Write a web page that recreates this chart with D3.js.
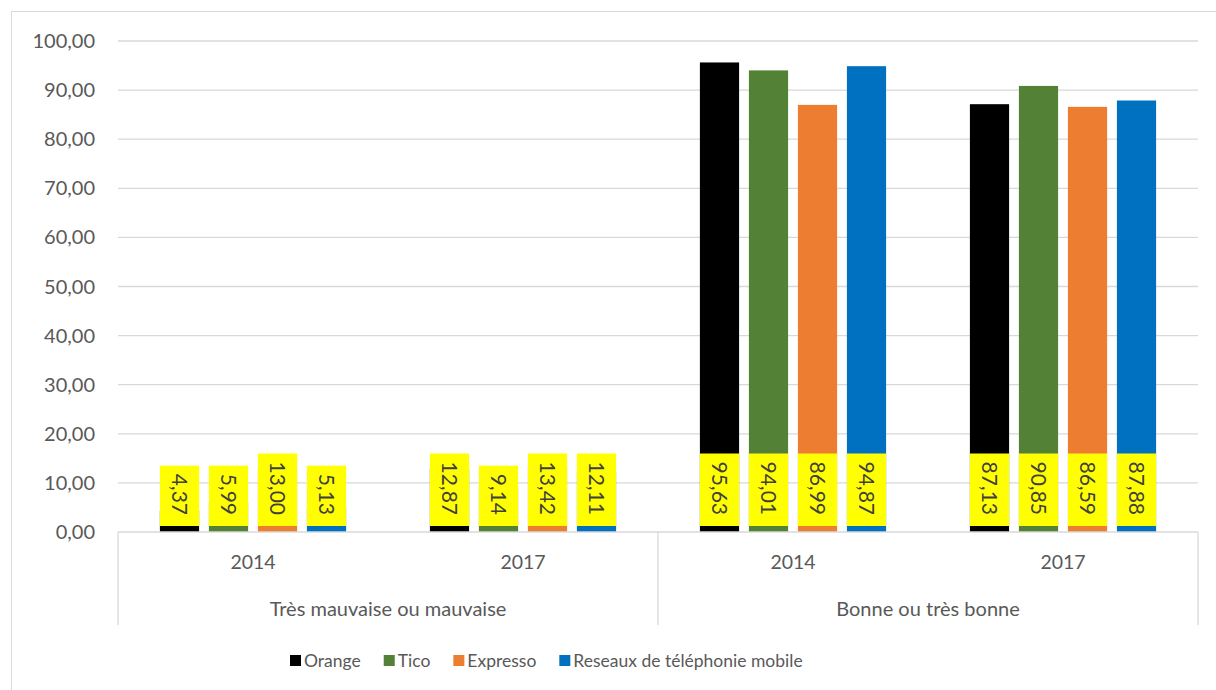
<!DOCTYPE html>
<html>
<head>
    <meta charset="utf-8">
    <title>Qualité du réseau</title>
    <script src="https://d3js.org/d3.v7.min.js"></script>
    <style>
        body { margin: 0; background: #fff; }
        text { font-family: Lato, "Open Sans", sans-serif; }
    </style>
</head>
<body>
    <script>
        // données
        var groups = ["Très mauvaise ou mauvaise", "Bonne ou très bonne"];
        var years = ["2014", "2017"];
        var series = ["Orange", "Tico", "Expresso", "Reseaux de téléphonie mobile"];
        var colors = ["#000000", "#538135", "#ED7D31", "#0070C0"];
        var orange = [4.37, 12.87, 95.63, 87.13];
        var tico = [5.99, 9.14, 94.01, 90.85];
        var expresso = [13.00, 13.42, 86.99, 86.59];
        var reseaux = [5.13, 12.11, 94.87, 87.88];
        var yTicks = [0, 10, 20, 30, 40, 50, 60, 70, 80, 90, 100];

        var values = [orange, tico, expresso, reseaux];
        var slots = [];
        groups.forEach(function (g, gi) {
            years.forEach(function (y, yi) { slots.push({ group: gi, year: y, idx: gi * 2 + yi }); });
        });

        var width = 1216, height = 690;
        var mLeft = 118, mRight = 1198, mTop = 41, mBottom = 532;

        var svg = d3.select("body").append("svg")
            .attr("width", width)
            .attr("height", height);

        // cadre
        svg.append("rect")
            .attr("x", 11.5).attr("y", 11.5)
            .attr("width", 1220).attr("height", 700)
            .attr("fill", "none")
            .attr("stroke", "#d9d9d9");

        var y = d3.scaleLinear().domain([0, 100]).range([mBottom, mTop]);
        var x0 = d3.scaleBand().domain(d3.range(4)).range([mLeft, mRight]);
        var x1 = d3.scaleBand().domain(d3.range(4)).range([0, x0.bandwidth()])
            .paddingInner(0.2).paddingOuter(0.855);
        var fmt = function (v) { return d3.format(".2f")(v).replace(".", ","); };

        // grille
        svg.append("g").selectAll("line")
            .data(yTicks.slice(1))
            .join("line")
            .attr("x1", mLeft).attr("x2", mRight)
            .attr("y1", d => y(d)).attr("y2", d => y(d))
            .attr("stroke", "#d9d9d9").attr("stroke-width", 1.3);

        svg.append("g").selectAll("text")
            .data(yTicks)
            .join("text")
            .attr("x", 95)
            .attr("y", d => y(d))
            .attr("dy", "0.35em")
            .attr("text-anchor", "end")
            .attr("fill", "#595959")
            .style("font-size", "20px")
            .text(fmt);

        // barres
        var barG = svg.append("g");
        series.forEach(function (s, si) {
            barG.append("g").selectAll("rect")
                .data(slots)
                .join("rect")
                .attr("x", d => x0(d.idx) + x1(si))
                .attr("width", x1.bandwidth())
                .attr("y", d => y(values[si][d.idx]))
                .attr("height", d => mBottom - y(values[si][d.idx]))
                .attr("fill", colors[si]);
        });

        // étiquettes
        var labG = svg.append("g");
        series.forEach(function (s, si) {
            slots.forEach(function (d) {
                var cx = x0(d.idx) + x1(si) + x1.bandwidth() / 2;
                var g = labG.append("g");
                var t = g.append("text")
                    .attr("transform", "translate(" + cx + "," + (mBottom - 17) + ") rotate(90)")
                    .attr("text-anchor", "end")
                    .attr("dy", "0.35em")
                    .attr("fill", "#404040")
                    .style("font-size", "21px")
                    .text(fmt(values[si][d.idx]));
                var len = t.node().getComputedTextLength();
                g.insert("rect", "text")
                    .attr("x", x0(d.idx) + x1(si))
                    .attr("width", x1.bandwidth())
                    .attr("y", mBottom - 6 - len - 19)
                    .attr("height", len + 19)
                    .attr("fill", "#FFFF00");
            });
        });

        // axe horizontal
        svg.append("line")
            .attr("x1", mLeft).attr("x2", mRight)
            .attr("y1", mBottom).attr("y2", mBottom)
            .attr("stroke", "#d9d9d9").attr("stroke-width", 1.3);
        svg.append("g").selectAll("line")
            .data([mLeft, (mLeft + mRight) / 2, mRight])
            .join("line")
            .attr("x1", d => d).attr("x2", d => d)
            .attr("y1", mBottom).attr("y2", 625)
            .attr("stroke", "#d9d9d9").attr("stroke-width", 1.3);

        svg.append("g").selectAll("text")
            .data(slots)
            .join("text")
            .attr("x", d => x0(d.idx) + x0.bandwidth() / 2)
            .attr("y", 562)
            .attr("dy", "0.35em")
            .attr("text-anchor", "middle")
            .attr("fill", "#595959")
            .style("font-size", "19.5px")
            .text(d => d.year);

        svg.append("g").selectAll("text")
            .data(groups)
            .join("text")
            .attr("x", (d, i) => x0(i * 2 + 1))
            .attr("y", 609)
            .attr("dy", "0.35em")
            .attr("text-anchor", "middle")
            .attr("fill", "#595959")
            .style("font-size", "20px")
            .text(d => d);

        // légende
        var legend = svg.append("g");
        var lx = 290;
        series.forEach(function (s, si) {
            legend.append("rect")
                .attr("x", lx).attr("y", 655)
                .attr("width", 11).attr("height", 11)
                .attr("fill", colors[si]);
            var t = legend.append("text")
                .attr("x", lx + 14)
                .attr("y", 661)
                .attr("dy", "0.35em")
                .attr("fill", "#595959")
                .style("font-size", "17.5px")
                .text(s);
            lx += 14 + t.node().getComputedTextLength() + 23;
        });
    </script>
</body>
</html>
